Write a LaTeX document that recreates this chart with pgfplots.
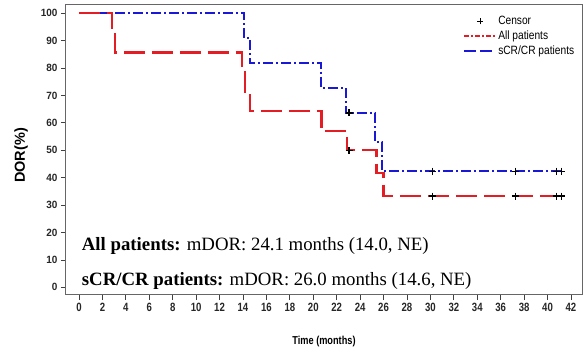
\documentclass[border=0pt]{standalone}
\usepackage{pgfplots}
\pgfplotsset{compat=1.18}
\usepackage{fontspec}
\setmainfont{Liberation Serif}
\newfontfamily\narrow{Liberation Sans}[FakeStretch=0.8]
\newfontfamily\narrowy{Liberation Sans}[FakeStretch=0.95]
\newfontfamily\narrowl{Liberation Sans}[FakeStretch=0.85]
\newfontfamily\arialf{Liberation Sans}
\definecolor{kmred}{RGB}{228,28,36}
\definecolor{kmblue}{RGB}{24,24,214}
\begin{document}
\begin{tikzpicture}
\begin{axis}[
  scale only axis,
  width=516pt, height=290pt,
  xmin=-1.11, xmax=42.94,
  ymin=-2.8, ymax=103,
  xtick={0,2,...,42},
  ytick={0,10,...,100},
  tick align=outside,
  major tick length=5pt,
  x tick style={black!75, line width=0.8pt},
  y tick style={black!75, line width=0.8pt},
  xtick pos=bottom, ytick pos=left,
  axis line style={black!60, line width=1pt},
  /pgf/number format/assume math mode=true,
  xticklabel style={font=\narrow\bfseries\fontsize{12}{14}\selectfont, black!85},
  yticklabel style={font=\narrowy\bfseries\fontsize{10.5}{12}\selectfont, black!85},
  xlabel={Time (months)},
  ylabel={DOR(\%)},
  xlabel style={font=\narrow\bfseries\fontsize{11.5}{13}\selectfont, at={(axis description cs:0.5,-0.16)}, anchor=center},
  ylabel style={font=\arialf\bfseries\fontsize{14.5}{16}\selectfont, at={(axis description cs:-0.087,0.481)}, anchor=center},
  legend style={at={(axis description cs:0.995,0.975)}, anchor=north east, draw=none, fill=none,
    font=\narrowl\fontsize{12}{13}\selectfont, row sep=0.5pt, legend cell align=left},
  clip=false,
]
\addlegendimage{legend image code/.code={\draw[black, line width=1.1pt] (13pt,0pt)--(19pt,0pt) (16pt,-3pt)--(16pt,3pt);}}
\addlegendentry{Censor}
\addlegendimage{legend image code/.code={\draw[kmred, line width=2pt, dash pattern=on 5pt off 2pt on 2pt off 2pt] (0pt,0pt)--(31pt,0pt);}}
\addlegendentry{All patients}
\addlegendimage{legend image code/.code={\draw[kmblue, line width=2pt, dash pattern=on 12pt off 4pt] (0pt,0pt)--(31pt,0pt);}}
\addlegendentry{sCR/CR patients}

% sCR/CR patients
\addplot[const plot, kmblue, line width=2pt, dash pattern=on 10pt off 3pt on 2pt off 3pt, forget plot] coordinates {
(0,100) (14.1,90.9) (14.6,81.8) (20.7,72.7) (22.8,63.6) (25.3,53.0) (25.9,42.4) (41.3,42.4)
};
% All patients
\addplot[const plot, kmred, line width=2.3pt, dash pattern=on 21pt off 7pt, forget plot] coordinates {
(0,100) (2.8,92.9) (3.07,85.7) (13.9,78.6) (14.2,71.4) (14.6,64.3) (20.7,57.1) (22.9,50) (25.4,41.7) (26.0,33.3) (41.3,33.3)
};
% censors
\addplot[only marks, mark=+, black, mark size=3.5pt, line width=1.1pt, forget plot] coordinates {
(23.05,50) (30.2,33.3) (37.26,33.3) (40.73,33.3) (41.2,33.3)
(23.05,63.6) (30.2,42.4) (37.26,42.4) (40.73,42.4) (41.2,42.4)
};
\node[anchor=base west, inner sep=0pt, font=\fontsize{18.8}{20}\selectfont] at (axis cs:0.23,13.5) {\textbf{All patients:} mDOR: 24.1 months (14.0, NE)};
\node[anchor=base west, inner sep=0pt, font=\fontsize{18.8}{20}\selectfont] at (axis cs:0.23,0.7) {\textbf{sCR/CR patients:} mDOR: 26.0 months (14.6, NE)};
\end{axis}
\pgfresetboundingbox
\path ([shift={(-66pt,-57pt)}]current axis.south west) rectangle ([shift={(2pt,5pt)}]current axis.north east);
\end{tikzpicture}
\end{document}
